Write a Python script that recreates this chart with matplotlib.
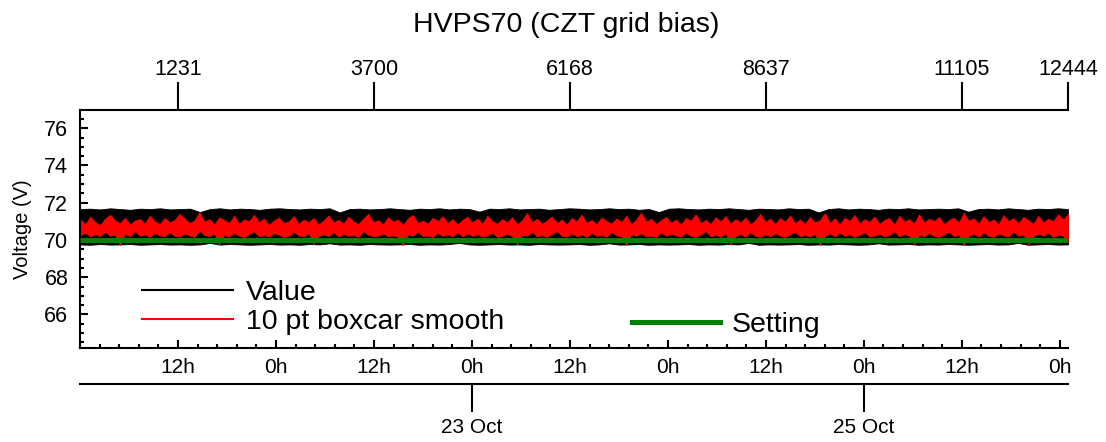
import numpy as np
import matplotlib
matplotlib.use('Agg')
import matplotlib.pyplot as plt
from matplotlib.lines import Line2D
from matplotlib.ticker import MultipleLocator

plt.rcParams['font.family'] = ['Liberation Sans', 'DejaVu Sans']

# --- data ---
n_samples = 12444
top_ticks = [1231, 3700, 6168, 8637, 11105, 12444]
hour_ticks = [12, 24, 36, 48, 60, 72, 84, 96, 108, 120]
hour_labels = ['12h', '0h', '12h', '0h', '12h', '0h', '12h', '0h', '12h', '0h']
date_hours = [48, 96]
date_labels = ['23 Oct', '25 Oct']
setting = 70.0

# envelope of the raw (quantised) readings, left to right
value_hi = [71.66, 71.68, 71.64, 71.70, 71.66, 71.62, 71.68, 71.66, 71.70, 71.64,
            71.66, 71.68, 71.50, 71.66, 71.70, 71.64, 71.68, 71.66, 71.62, 71.68,
            71.70, 71.66, 71.64, 71.68, 71.66, 71.70, 71.48, 71.66, 71.68, 71.64,
            71.66, 71.70, 71.66, 71.62, 71.68, 71.66, 71.70, 71.64, 71.68, 71.66,
            71.52, 71.68, 71.66, 71.70, 71.64, 71.66, 71.68, 71.62, 71.66, 71.70,
            71.68, 71.64, 71.66, 71.70, 71.66, 71.68, 71.62, 71.66, 71.50, 71.68,
            71.70, 71.66, 71.64, 71.68, 71.66, 71.70, 71.66, 71.62, 71.68, 71.66,
            71.64, 71.70, 71.66, 71.68, 71.48, 71.66, 71.70, 71.64, 71.68, 71.66,
            71.62, 71.68, 71.66, 71.70, 71.64, 71.66, 71.68, 71.66, 71.70, 71.52,
            71.66, 71.68, 71.64, 71.70, 71.66, 71.62, 71.68, 71.66, 71.70, 71.66]
value_lo = [69.76, 69.74, 69.78, 69.75, 69.76, 69.78, 69.74, 69.76, 69.78, 69.75,
            69.76, 69.74, 69.76, 69.84, 69.75, 69.78, 69.76, 69.74, 69.76, 69.78,
            69.75, 69.76, 69.74, 69.78, 69.76, 69.82, 69.75, 69.76, 69.74, 69.78,
            69.76, 69.75, 69.76, 69.78, 69.74, 69.76, 69.75, 69.78, 69.84, 69.76,
            69.74, 69.76, 69.78, 69.75, 69.76, 69.74, 69.78, 69.76, 69.75, 69.76,
            69.78, 69.74, 69.76, 69.82, 69.75, 69.76, 69.78, 69.74, 69.76, 69.75,
            69.76, 69.78, 69.74, 69.76, 69.75, 69.78, 69.76, 69.84, 69.74, 69.76,
            69.75, 69.76, 69.78, 69.74, 69.76, 69.75, 69.78, 69.76, 69.74, 69.76,
            69.82, 69.75, 69.76, 69.78, 69.74, 69.76, 69.75, 69.78, 69.76, 69.74,
            69.76, 69.78, 69.75, 69.76, 69.84, 69.74, 69.76, 69.78, 69.75, 69.76]

# envelope of the 10 pt boxcar smooth, left to right
smooth_hi = [71.10, 70.85, 71.25, 70.95, 70.80, 71.15, 71.35, 71.05, 70.90, 71.20,
             70.82, 71.05, 71.12, 70.88, 71.30, 71.00, 70.85, 71.18, 70.95, 71.08,
             71.40, 71.15, 70.90, 71.05, 71.50, 70.98, 71.12, 70.84, 71.22, 71.06,
             70.92, 71.30, 70.86, 71.10, 71.00, 71.35, 70.95, 71.15, 70.80, 71.05,
             71.20, 70.90, 71.00, 71.28, 70.85, 71.10, 70.96, 71.18, 70.82, 71.05,
             71.32, 70.94, 71.08, 70.88, 71.24, 71.00, 70.86, 71.14, 71.40, 70.96,
             71.06, 70.84, 71.22, 70.98, 71.10, 70.80, 71.16, 71.34, 70.92, 71.04,
             70.86, 71.20, 71.00, 71.28, 70.90, 71.12, 70.82, 71.08, 71.25, 70.94,
             71.15, 70.88, 71.30, 71.02, 70.86, 71.12, 70.95, 71.22, 70.84, 71.06,
             71.45, 70.96, 71.14, 70.88, 71.04, 71.26, 70.90, 71.10, 70.82, 71.18,
             71.00, 71.36, 70.92, 71.08, 70.85, 71.20, 71.02, 70.88, 71.16, 70.96,
             71.30, 70.84, 71.10, 71.48, 70.98, 71.14, 70.86, 71.06, 71.24, 70.92,
             71.10, 70.82, 71.18, 71.04, 71.38, 70.90, 71.08, 70.86, 71.22, 71.00,
             71.28, 70.88, 71.12, 70.94, 71.20, 70.84, 71.06, 71.40, 70.96, 71.14,
             70.85, 71.18, 70.98, 71.32, 70.90, 71.10, 70.86, 71.24, 70.94, 71.06,
             71.44, 70.92, 71.16, 70.84, 71.20, 71.02, 71.34, 70.88, 71.12, 70.96,
             71.26, 70.86, 71.08, 71.18, 70.82, 71.30, 70.98, 71.12, 70.88, 71.38,
             70.94, 71.14, 71.00, 71.24, 70.86, 71.06, 71.20, 70.92, 71.46, 71.02,
             71.16, 70.88, 71.28, 70.96, 71.10, 70.84, 71.34, 71.00, 71.18, 70.90,
             71.24, 71.06, 70.86, 71.30, 70.94, 71.14, 71.00, 71.38, 71.08, 71.42]
smooth_lo = [70.25, 70.40, 70.18, 70.32, 70.20, 70.45, 70.22, 70.28, 69.72, 70.35,
             70.18, 70.48, 70.22, 70.30, 70.16, 70.38, 70.24, 70.20, 70.42, 70.22,
             70.18, 70.36, 70.24, 70.16, 70.50, 70.26, 70.20, 70.34, 69.75, 70.28,
             70.18, 70.40, 70.22, 70.16, 70.32, 70.46, 70.20, 70.26, 70.18, 70.38,
             70.28, 70.16, 70.22, 70.44, 70.24, 70.19, 70.34, 69.78, 70.22, 70.30,
             70.20, 70.42, 70.18, 70.34, 70.22, 70.26, 70.16, 70.48, 70.28, 70.20,
             70.22, 70.36, 70.19, 70.25, 70.16, 69.72, 70.30, 70.22, 70.46, 70.20,
             70.24, 70.16, 70.38, 70.22, 70.30, 70.18, 70.42, 70.19, 70.36, 70.22,
             70.30, 70.18, 70.24, 70.40, 70.16, 70.22, 70.34, 70.20, 69.76, 70.28,
             70.22, 70.44, 70.18, 70.26, 70.16, 70.32, 70.48, 70.22, 70.18, 70.36,
             70.20, 70.30, 70.16, 70.38, 70.22, 70.26, 70.18, 70.44, 70.24, 70.19,
             69.72, 70.30, 70.22, 70.36, 70.18, 70.24, 70.16, 70.42, 70.22, 70.34,
             70.24, 70.18, 70.40, 70.22, 70.16, 70.30, 70.48, 70.20, 70.28, 70.16,
             70.36, 69.74, 70.22, 70.32, 70.18, 70.42, 70.22, 70.16, 70.30, 70.20,
             70.38, 70.22, 70.16, 70.30, 70.44, 70.20, 70.26, 70.18, 70.34, 69.72,
             70.20, 70.36, 70.19, 70.40, 70.22, 70.30, 70.16, 70.28, 70.42, 70.18,
             70.22, 70.34, 70.18, 70.26, 70.46, 70.19, 70.32, 70.22, 69.78, 70.30,
             70.18, 70.38, 70.22, 70.16, 70.30, 70.44, 70.20, 70.28, 69.72, 70.22,
             70.32, 70.18, 70.40, 70.22, 70.16, 70.36, 70.24, 70.18, 70.46, 70.22,
             70.30, 69.76, 70.20, 70.34, 70.22, 70.38, 70.16, 70.28, 70.22, 69.90]

# sample index <-> hours since 21 Oct 0h
per_hour = (top_ticks[1] - top_ticks[0]) / 24.0


def h2i(h):
    return top_ticks[0] + (np.asarray(h, dtype=float) - 12) * per_hour


green = '#008000'
W, H = 1106, 442
fig = plt.figure(figsize=(W / 100, H / 100), dpi=100)
ax = fig.add_axes([80 / W, 94 / H, 988 / W, 237.5 / H])

x_val = np.linspace(0, n_samples, len(value_hi))
x_sm = np.linspace(0, n_samples, len(smooth_hi))
ax.fill_between(x_val, value_lo, value_hi, color='black', lw=0.6, zorder=1)
ax.fill_between(x_sm, smooth_lo, smooth_hi, color='red', lw=0.5, zorder=2)
ax.plot([0, n_samples], [setting, setting], color=green, lw=3.6, zorder=3,
        solid_capstyle='butt')

ax.set_xlim(0, n_samples)
ax.set_ylim(64.2, 76.95)

for s in ['top', 'right']:
    ax.spines[s].set_visible(False)
for s in ['left', 'bottom']:
    ax.spines[s].set_linewidth(1.5)

# left axis
ax.set_yticks(np.arange(66, 77, 2))
ax.yaxis.set_minor_locator(MultipleLocator(0.5))
ax.tick_params(axis='y', which='both', direction='in', width=1.5, labelsize=15.5, pad=8.4)
ax.tick_params(axis='y', which='major', length=5.5)
ax.tick_params(axis='y', which='minor', length=3)
ax.set_ylabel('Voltage (V)', fontsize=14.5)
ax.yaxis.set_label_coords(-0.0486, 0.5)

# bottom hour axis
ax.set_xticks(h2i(hour_ticks), hour_labels)
ax.set_xticks(h2i(np.arange(0, 121, 2.4)), minor=True)
ax.tick_params(axis='x', which='both', direction='in', width=1.5, labelsize=15, pad=7.0)
ax.tick_params(axis='x', which='major', length=5.5)
ax.tick_params(axis='x', which='minor', length=3)

# top sample index axis
top = ax.secondary_xaxis('top')
top.set_xticks(top_ticks, [str(t) for t in top_ticks])
top.tick_params(direction='out', length=20, width=1.5, labelsize=15.5, pad=1.6)
top.spines['top'].set_linewidth(1.5)

# date axis below
date_ax = ax.secondary_xaxis(-35.5 / 237.5)
date_ax.set_xticks(h2i(date_hours), date_labels)
date_ax.tick_params(direction='out', length=20, width=1.5, labelsize=15, pad=5.0)
date_ax.spines['bottom'].set_linewidth(1.5)

fig.text(566 / W, 1 - 31.7 / H, 'HVPS70 (CZT grid bias)', fontsize=20.5,
         ha='center', va='baseline')

leg1 = ax.legend(handles=[Line2D([], [], color='black', lw=1.5),
                          Line2D([], [], color='red', lw=1.5)],
                 labels=['Value', '10 pt boxcar smooth'],
                 loc='center left', bbox_to_anchor=(141.7 / W, 1 - 307.2 / H),
                 bbox_transform=fig.transFigure, frameon=False, fontsize=20.5,
                 handlelength=3.2, handletextpad=0.47, labelspacing=0.1,
                 borderpad=0, borderaxespad=0)
ax.add_artist(leg1)
ax.legend(handles=[Line2D([], [], color=green, lw=3.6)], labels=['Setting'],
          loc='center left', bbox_to_anchor=(631.7 / W, 1 - 325.0 / H),
          bbox_transform=fig.transFigure, frameon=False, fontsize=20.5,
          handlelength=3.1, handletextpad=0.42, borderpad=0, borderaxespad=0)

fig.savefig('out.png', dpi=100)
